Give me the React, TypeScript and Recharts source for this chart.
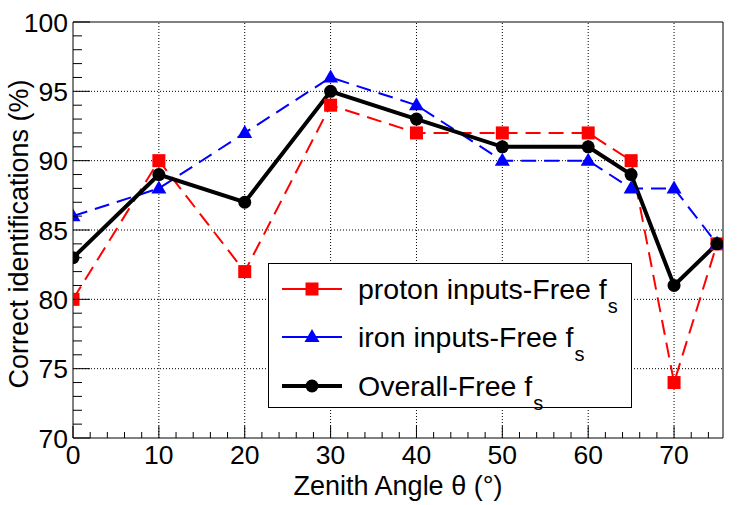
import { LineChart, Line, XAxis, YAxis, ReferenceLine, Legend } from 'recharts';

const angles = [0, 10, 20, 30, 40, 50, 60, 65, 70, 75];
const protonFree = [80, 90, 82, 94, 92, 92, 92, 90, 74, 84];
const ironFree = [86, 88, 92, 96, 94, 90, 90, 88, 88, 84];
const overallFree = [83, 89, 87, 95, 93, 91, 91, 89, 81, 84];

const xTicks = [0, 2, 4, 6, 8, 10, 12, 14, 16, 18, 20, 22, 24, 26, 28, 30, 32, 34, 36, 38, 40, 42, 44, 46, 48, 50, 52, 54, 56, 58, 60, 62, 64, 66, 68, 70, 72, 74];
const yTicks = [70, 71, 72, 73, 74, 75, 76, 77, 78, 79, 80, 81, 82, 83, 84, 85, 86, 87, 88, 89, 90, 91, 92, 93, 94, 95, 96, 97, 98, 99, 100];
const xGrid = [10, 20, 30, 40, 50, 60, 70];
const yGrid = [75, 80, 85, 90, 95];

const X_MAX = 75.7;
const FONT = '"Liberation Sans", Arial, Helvetica, sans-serif';

const rows = angles.map((a, i) => ({
  angle: a,
  proton: protonFree[i],
  iron: ironFree[i],
  overall: overallFree[i],
}));

type Kind = 'square' | 'triangle' | 'circle';

function Marker({ kind, cx, cy, color }: { kind: Kind; cx: number; cy: number; color: string }) {
  if (kind === 'square') return <rect x={cx - 6.5} y={cy - 6.5} width={13} height={13} fill={color} />;
  if (kind === 'triangle')
    return <polygon points={`${cx},${cy - 8} ${cx - 7.5},${cy + 5} ${cx + 7.5},${cy + 5}`} fill={color} />;
  return <circle cx={cx} cy={cy} r={6.5} fill={color} />;
}

const seriesList = [
  { key: 'proton', label: 'proton inputs-Free f', color: '#ff0000', kind: 'square' as Kind, width: 2, dash: '15 8' },
  { key: 'iron', label: 'iron inputs-Free f', color: '#0000ff', kind: 'triangle' as Kind, width: 2, dash: '15 8' },
  { key: 'overall', label: 'Overall-Free f', color: '#000000', kind: 'circle' as Kind, width: 4, dash: undefined },
];

function XTick(props: any) {
  const { x, y, payload } = props;
  const v = payload.value as number;
  const major = v % 10 === 0;
  const axisY = y - 7;
  return (
    <g>
      <line x1={x} x2={x} y1={axisY} y2={axisY - (major ? 12 : 6)} stroke="#000" />
      {major && (
        <text x={x} y={y} dy="0.72em" textAnchor="middle" fontSize={26.5} fontFamily={FONT} fill="#000">
          {v}
        </text>
      )}
    </g>
  );
}

function YTick(props: any) {
  const { x, y, payload } = props;
  const v = payload.value as number;
  const major = v % 5 === 0;
  const axisX = x + 5;
  return (
    <g>
      <line x1={axisX} x2={axisX + (major ? 17 : 9)} y1={y} y2={y} stroke="#000" />
      {major && (
        <text x={x} y={y} dy="0.36em" textAnchor="end" fontSize={26.5} fontFamily={FONT} fill="#000">
          {v}
        </text>
      )}
    </g>
  );
}

function LegendBox() {
  const rowY = [26, 74, 123];
  return (
    <svg width={364} height={145} style={{ display: 'block', overflow: 'visible' }}>
      <rect x={0.5} y={0.5} width={363} height={144} fill="#fff" stroke="#000" />
      {seriesList.map((s, i) => (
        <g key={s.key}>
          <line x1={14} x2={74} y1={rowY[i]} y2={rowY[i]} stroke={s.color} strokeWidth={s.width} />
          <Marker kind={s.kind} cx={44} cy={rowY[i]} color={s.color} />
          <text x={90} y={rowY[i] + 10} fontSize={28.5} fontFamily={FONT} fill="#000">
            {s.label}
            <tspan dx={1} dy={14} fontSize={20}>s</tspan>
          </text>
        </g>
      ))}
    </svg>
  );
}

export default function App() {
  return (
    <div style={{ position: 'absolute', left: 0, top: 0, background: '#fff' }}>
      <LineChart width={747} height={505} data={rows} margin={{ top: 22, right: 24, left: 0, bottom: 0 }}>
        <XAxis
          dataKey="angle"
          type="number"
          domain={[0, X_MAX]}
          ticks={xTicks}
          interval={0}
          allowDataOverflow
          height={67}
          tickSize={0}
          tickMargin={7}
          tick={<XTick />}
          stroke="#000"
          label={{
            content: () => (
              <text x={398} y={495} textAnchor="middle" fontSize={27} fontFamily={FONT} fill="#000">
                Zenith Angle θ (°)
              </text>
            ),
          }}
        />
        <YAxis
          type="number"
          domain={[70, 100]}
          ticks={yTicks}
          interval={0}
          allowDataOverflow
          width={73}
          tickSize={0}
          tickMargin={5}
          tick={<YTick />}
          stroke="#000"
          label={{
            content: () => (
              <text
                transform="translate(28, 234) rotate(-90)"
                textAnchor="middle"
                fontSize={27}
                fontFamily={FONT}
                fill="#000"
              >
                Correct identifications (%)
              </text>
            ),
          }}
        />
        {xGrid.map((g) => (
          <ReferenceLine key={`vx${g}`} x={g} stroke="#000" strokeWidth={1} strokeDasharray="1 2" />
        ))}
        {yGrid.map((g) => (
          <ReferenceLine key={`hy${g}`} y={g} stroke="#000" strokeWidth={1} strokeDasharray="1 2" />
        ))}
        <ReferenceLine y={100} stroke="#000" strokeWidth={1} />
        <ReferenceLine x={X_MAX} stroke="#000" strokeWidth={1} />
        {seriesList.map((s) => (
          <Line
            key={s.key}
            dataKey={s.key}
            name={s.label}
            type="linear"
            stroke={s.color}
            strokeWidth={s.width}
            strokeDasharray={s.dash}
            isAnimationActive={false}
            activeDot={false}
            dot={(p: any) => <Marker key={`${s.key}${p.index}`} kind={s.kind} cx={p.cx} cy={p.cy} color={s.color} />}
          />
        ))}
        <Legend
          layout="horizontal"
          verticalAlign="middle"
          align="center"
          content={() => <LegendBox />}
          wrapperStyle={{ position: 'absolute', left: 268, top: 263, width: 364, height: 145 }}
        />
      </LineChart>
    </div>
  );
}
